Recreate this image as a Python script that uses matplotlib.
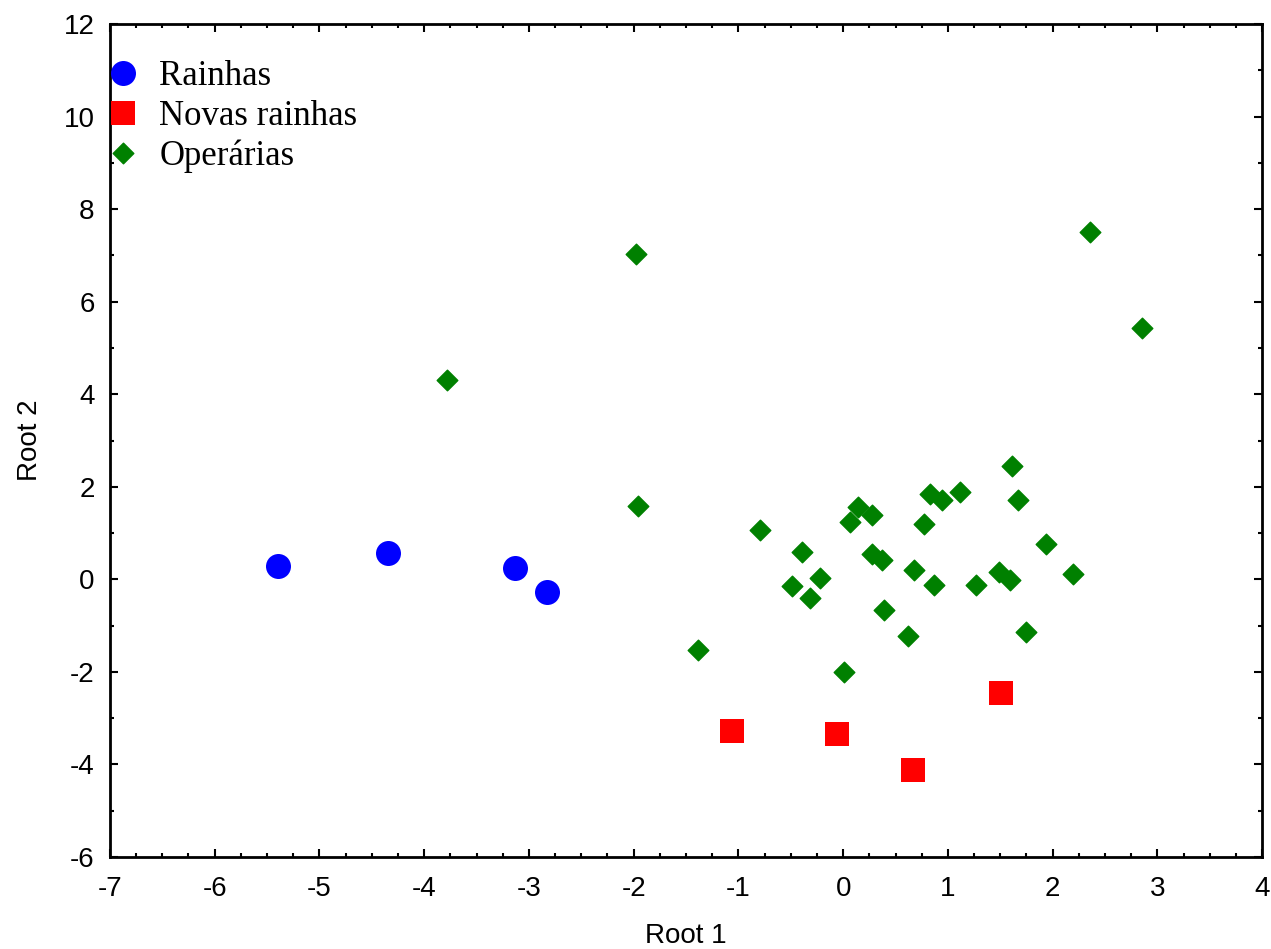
import matplotlib.pyplot as plt
from matplotlib.ticker import MultipleLocator

rainhas_x = [-5.40, -4.35, -3.13, -2.83]
rainhas_y = [0.29, 0.57, 0.24, -0.27]

novas_x = [-1.06, -0.06, 0.67, 1.51]
novas_y = [-3.28, -3.34, -4.12, -2.45]

operarias_x = [-1.98, -3.78, -1.96, 2.36, 2.85, -1.39, -0.79, -0.39, -0.49, -0.22,
               -0.32, 0.01, 0.07, 0.14, 0.28, 0.28, 0.37, 0.39, 0.62, 0.68,
               0.77, 0.83, 0.87, 0.94, 1.12, 1.27, 1.49, 1.59, 1.61, 1.67,
               1.75, 1.94, 2.19]
operarias_y = [7.03, 4.31, 1.58, 7.51, 5.43, -1.53, 1.07, 0.59, -0.14, 0.03,
               -0.40, -2.00, 1.24, 1.56, 1.39, 0.55, 0.42, -0.66, -1.23, 0.20,
               1.20, 1.84, -0.12, 1.71, 1.89, -0.12, 0.16, -0.01, 2.45, 1.71,
               -1.14, 0.77, 0.12]

plt.rcParams["font.family"] = "Liberation Sans"
plt.rcParams["axes.unicode_minus"] = False

fig = plt.figure(figsize=(12.71, 9.49), dpi=100)
ax = fig.add_axes([0.0865, 0.0969, 0.9065, 0.8778])

ax.scatter(rainhas_x, rainhas_y, s=324, marker="o", color="#0000FF",
           linewidths=0, label="Rainhas", zorder=3)
ax.scatter(novas_x, novas_y, s=320, marker="s", color="#FF0000",
           linewidths=0, label="Novas rainhas", zorder=3)
ax.scatter(operarias_x, operarias_y, s=110, marker="D", color="#008000",
           edgecolors="#008000", linewidths=1, label="Operárias", zorder=3)

ax.set_xlim(-7, 4)
ax.set_ylim(-6, 12)
ax.xaxis.set_major_locator(MultipleLocator(1))
ax.xaxis.set_minor_locator(MultipleLocator(0.25))
ax.yaxis.set_major_locator(MultipleLocator(2))
ax.yaxis.set_minor_locator(MultipleLocator(1))
ax.tick_params(which="both", direction="in", top=True, right=True,
               labelsize=20, width=1.5)
ax.tick_params(which="major", length=6)
ax.tick_params(which="minor", length=3)
ax.tick_params(axis="x", pad=14)
ax.tick_params(axis="y", pad=11)
for sp in ax.spines.values():
    sp.set_linewidth(2)

ax.set_xlabel("Root 1", fontsize=20, labelpad=15)
ax.set_ylabel("Root 2", fontsize=20, labelpad=15)

ax.legend(loc="upper left", bbox_to_anchor=(-0.004, 0.957), frameon=False,
          prop={"family": "Liberation Serif", "size": 25},
          handlelength=1.0, handletextpad=0.56, labelspacing=0.2,
          borderaxespad=0.0, borderpad=0.0, scatteryoffsets=[0.5])

fig.savefig("out.png", dpi=100)
